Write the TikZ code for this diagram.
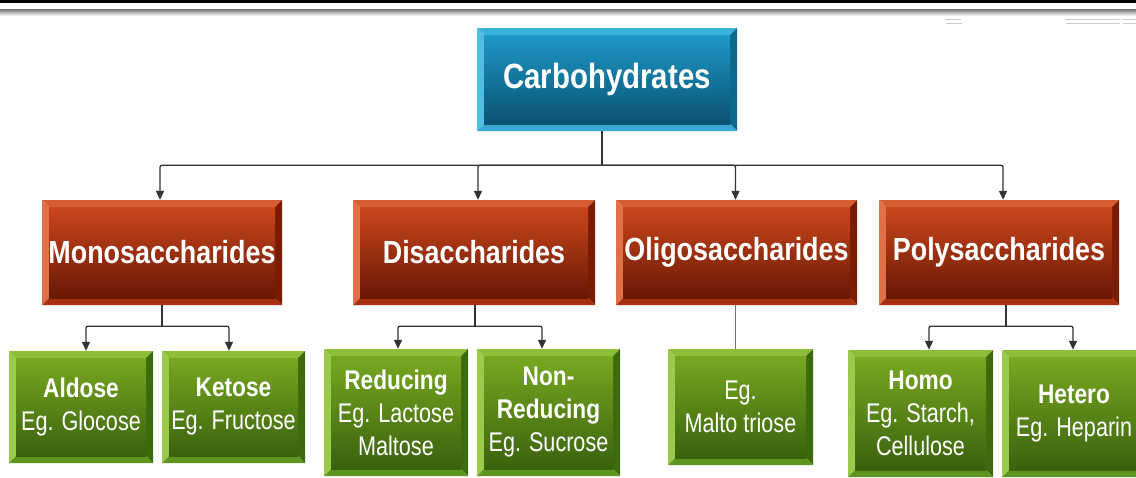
\documentclass[tikz,border=0pt]{standalone}
\usepackage{fontspec}
\usetikzlibrary{arrows.meta}
\newfontfamily\boxfont[FakeStretch=0.84]{Liberation Sans}
\newfontfamily\egfont[FakeStretch=0.80]{Liberation Sans}

\definecolor{bluetop}{HTML}{3AB0DA}
\definecolor{blueleft}{HTML}{52BCE2}
\definecolor{blueright}{HTML}{0C6A8C}
\definecolor{bluebot}{HTML}{3AA8D4}
\definecolor{bluehi}{HTML}{1E98C8}
\definecolor{bluelo}{HTML}{0A5270}
\definecolor{redtop}{HTML}{D65C32}
\definecolor{redleft}{HTML}{E07048}
\definecolor{redright}{HTML}{7A1C04}
\definecolor{redbot}{HTML}{A83010}
\definecolor{redhi}{HTML}{CC471C}
\definecolor{redlo}{HTML}{681805}
\definecolor{greentop}{HTML}{8CBE38}
\definecolor{greenleft}{HTML}{9ACA4C}
\definecolor{greenright}{HTML}{3E6A0E}
\definecolor{greenbot}{HTML}{5E9420}
\definecolor{greenhi}{HTML}{78A820}
\definecolor{greenlo}{HTML}{3A620E}

% bevelled face: top, left, right, bottom rim, then face gradient
\newcommand\bevel[6]{%
  \path (path picture bounding box.north west) coordinate (bv-nw)
        (path picture bounding box.north east) coordinate (bv-ne)
        (path picture bounding box.south west) coordinate (bv-sw)
        (path picture bounding box.south east) coordinate (bv-se);
  \path ([xshift=7pt,yshift=-7pt]bv-nw) coordinate (bv-inw)
        ([xshift=-7pt,yshift=-7pt]bv-ne) coordinate (bv-ine)
        ([xshift=7pt,yshift=7pt]bv-sw) coordinate (bv-isw)
        ([xshift=-7pt,yshift=7pt]bv-se) coordinate (bv-ise);
  \fill[#1] (bv-nw) -- (bv-ne) -- (bv-ine) -- (bv-inw) -- cycle;
  \fill[#2] (bv-nw) -- (bv-inw) -- (bv-isw) -- (bv-sw) -- cycle;
  \fill[#3] (bv-ne) -- (bv-se) -- (bv-ise) -- (bv-ine) -- cycle;
  \fill[#4] (bv-sw) -- (bv-isw) -- (bv-ise) -- (bv-se) -- cycle;
  \shade[top color=#5, bottom color=#6] (bv-inw) rectangle (bv-ise);
}

\tikzset{
  box/.style={rectangle, inner sep=0pt, align=center, text=white},
  carbbox/.style={box, minimum width=260pt, minimum height=103pt,
    font=\boxfont\bfseries\fontsize{35}{40}\selectfont,
    path picture={\bevel{bluetop}{blueleft}{blueright}{bluebot}{bluehi}{bluelo}}},
  groupbox/.style={box, minimum height=105pt,
    font=\boxfont\bfseries\fontsize{32}{38}\selectfont,
    path picture={\bevel{redtop}{redleft}{redright}{redbot}{redhi}{redlo}}},
  examplebox/.style={box, font=\egfont\fontsize{27}{33}\selectfont,
    path picture={\bevel{greentop}{greenleft}{greenright}{greenbot}{greenhi}{greenlo}}},
  link/.style={draw=black!80, line width=1.3pt, rounded corners=2pt},
  arrow/.style={link, -{Triangle[length=9pt,width=8pt]}},
}
\newcommand\ttl[1]{{\boxfont\bfseries #1}}

\begin{document}
\begin{tikzpicture}[x=1pt,y=-1pt]
  \useasboundingbox (0,0) rectangle (1136,477);
  \clip (0,0) rectangle (1136,477);
  \fill[white] (0,0) rectangle (1136,477);
  % header rules
  \fill[black] (0,0) rectangle (1136,2.5);
  \shade[top color=black!55, bottom color=white] (0,9) rectangle (1136,16);
  \draw[black!20, line width=1pt] (945,19) -- (961,19) (946,23) -- (962,23)
    (1065,19) -- (1119,19) (1066,23) -- (1120,23) (1123,19) -- (1136,19) (1123,23) -- (1136,23);

  % nodes
  \node[carbbox] (carb) at (607,79.5) {Carbohydrates};

  \node[groupbox, minimum width=240pt] (mono) at (162,252.5) {Monosaccharides};
  \node[groupbox, minimum width=242pt] (di) at (474,252.5) {Disaccharides};
  \node[groupbox, minimum width=241pt] (oligo) at (736.5,252.5) {Oligosaccharides};
  \node[groupbox, minimum width=240pt] (poly) at (999,252.5) {Polysaccharides};

  \node[examplebox, minimum width=144pt, minimum height=112pt] (aldose) at (81,407)
    {\ttl{Aldose}\\Eg. Glocose};
  \node[examplebox, minimum width=143pt, minimum height=112pt] (ketose) at (233.5,407)
    {\ttl{Ketose}\\Eg. Fructose};
  \node[examplebox, minimum width=144pt, minimum height=127pt] (reducing) at (396,412.5)
    {\ttl{Reducing}\\Eg. Lactose\\Maltose};
  \node[examplebox, minimum width=143pt, minimum height=127pt] (nonreducing) at (548.5,412.5)
    {\ttl{Non-}\\\ttl{Reducing}\\Eg. Sucrose};
  \node[examplebox, minimum width=145pt, minimum height=116pt] (malto) at (740.5,407)
    {Eg.\\Malto triose};
  \node[examplebox, minimum width=145pt, minimum height=127pt] (homo) at (920.5,413.5)
    {\ttl{Homo}\\Eg. Starch,\\Cellulose};
  \node[examplebox, minimum width=144pt, minimum height=127pt] (hetero) at (1074,413.5)
    {\ttl{Hetero}\\Eg. Heparin};

  % connectors
  \path ([xshift=-5pt]carb.south) ++(0,34) coordinate (split);
  \draw[link] ([xshift=-5pt]carb.south) -- (split);
  \draw[arrow] (split) -| ([xshift=-2pt]mono.north);
  \draw[arrow] (split) -| ([xshift=4pt]di.north);
  \draw[arrow] (split) -| ([xshift=-1pt]oligo.north);
  \draw[arrow] (split) -| ([xshift=4pt]poly.north);

  \path (mono.south) ++(0,21) coordinate (monosplit);
  \draw[link] (mono.south) -- (monosplit);
  \draw[arrow] (monosplit) -| ([xshift=5pt]aldose.north);
  \draw[arrow] (monosplit) -| ([xshift=-4.5pt]ketose.north);

  \path ([xshift=1pt]di.south) ++(0,21) coordinate (displit);
  \draw[link] ([xshift=1pt]di.south) -- (displit);
  \draw[arrow] (displit) -| ([xshift=2pt]reducing.north);
  \draw[arrow] (displit) -| ([xshift=-6.5pt]nonreducing.north);

  \draw[black!55, line width=1.3pt] ([xshift=-1pt]oligo.south) -- ([xshift=-1pt]oligo.south |- malto.north);

  \path ([xshift=7pt]poly.south) ++(0,21) coordinate (polysplit);
  \draw[link] ([xshift=7pt]poly.south) -- (polysplit);
  \draw[arrow] (polysplit) -| ([xshift=8.5pt]homo.north);
  \draw[arrow] (polysplit) -| ([xshift=-1pt]hetero.north);
\end{tikzpicture}
\end{document}
